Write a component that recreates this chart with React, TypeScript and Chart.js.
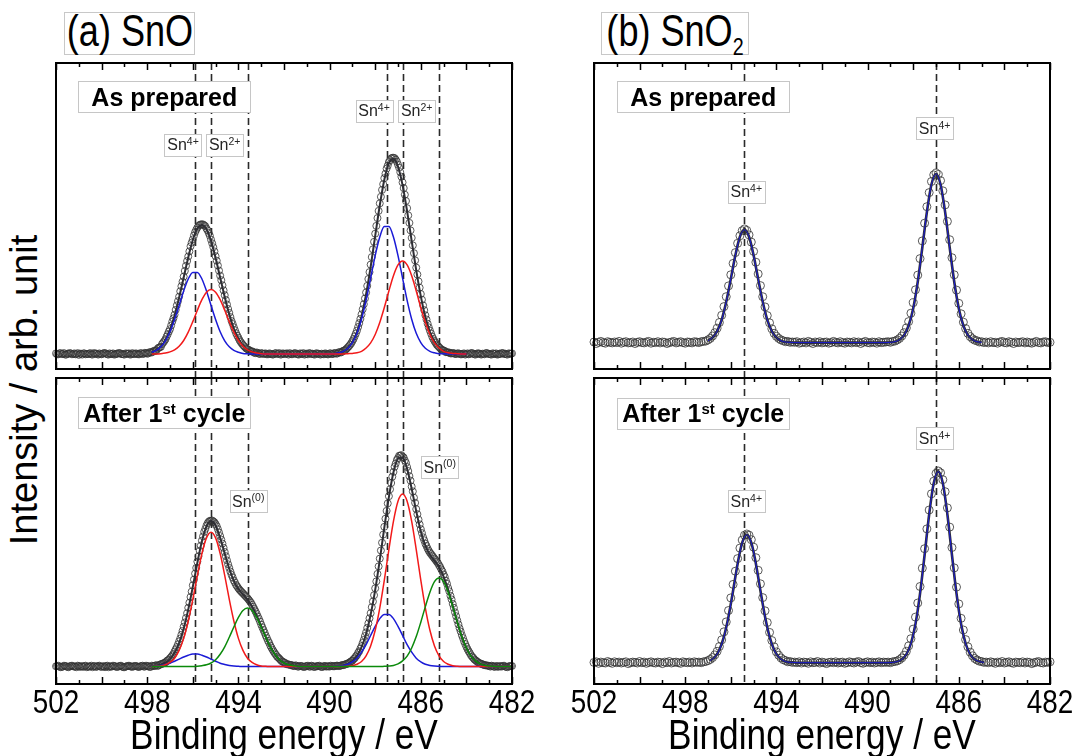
import React, { useEffect, useRef } from 'react';
import { Chart, registerables } from 'chart.js';

Chart.register(...registerables);

const SANS = "'Liberation Sans', Arial, Helvetica, sans-serif";
const CONDENSE = 0.82; // horizontal squeeze of the axis lettering

const BLUE = '#1a1ad6';
const RED = '#f21a1a';
const GREEN = '#0b8a0b';
const DARK = '#2e2e34';
const CIRCLE = 'rgba(50,50,50,0.8)';

// binding-energy axis
const X_MIN = 482;
const X_MAX = 502;
const TICK_LABEL_STEP = 4;
const X_TITLE = 'Binding energy / eV';

// measured scans: 502.0 -> 482.0 eV, 0.1 eV step (201 points)
const SCAN = { start: 502.0, step: -0.1 };
// SnO scans were recorded on a 0.05 eV step: the interleaved half-step readings 501.95 -> 482.05 (200 points)
const HALF_SCAN = { start: 501.95, step: -0.1 };
// fitted curves grids
const FIT_SNO_PREP = { start: 497.8, step: -0.2 }; // 70 points
const FIT_SNO_CYC = { start: 497.8, step: -0.2 }; // 80 points
const FIT_SNO2_PREP = { start: 497.0, step: -0.2 }; // 61 points
const FIT_SNO2_CYC = { start: 496.9, step: -0.2 }; // 61 points

// ---------- (a) SnO, as prepared ----------
const snoPrepData = [
  0.2,-0.1,0.3,0,-0.2,0.1,0.3,-0.1,0.2,0,-0.3,0.1,0.2,-0.1,0,0.3,-0.2,0.1,0,0.2,-0.1,0.3,0.1,-0.2,0,0.2,-0.1,0.1,0.3,0,-0.2,0.1,0.2,-0.1,0,
  0.2,-0.1,0.3,0.0,0.4,0.1,0.6,0.5,1.1,1.2,2.1,2.4,3.8,4.9,6.6,8.3,10.8,13.1,16.2,19.1,22.6,25.8,29.4,32.5,35.9,38.2,40.6,42.1,43.0,43.2,
  42.9,41.8,40.3,38.1,35.6,32.6,29.5,26.1,22.9,19.6,16.5,13.7,11.0,8.9,6.9,5.4,4.0,3.0,2.2,1.6,1.1,0.9,0.4,0.5,0.1,0.3,0.0,0.2,-0.1,
  0.1,-0.2,0.2,0,0.3,-0.1,0.1,0.2,-0.2,0,0.1,0.3,-0.1,0.2,0,-0.2,0.1,0.3,0,-0.1,0.2,0.1,-0.2,0.0,
  0.2,-0.1,0.2,0.0,0.3,0.1,0.6,0.5,1.1,1.4,2.2,3.1,4.3,5.9,7.8,10.3,13.2,16.6,20.5,25.0,29.8,34.9,40.1,45.3,50.2,54.7,58.6,61.8,64.0,65.2,
  65.4,64.8,63.1,60.6,57.2,53.1,48.6,43.7,38.7,33.6,28.8,24.2,20.0,16.2,12.9,10.1,7.8,5.8,4.3,3.1,2.3,1.5,1.2,0.6,0.5,0.2,0.3,0.0,0.2,0.1,-0.1,
  0.2,0,-0.1,0.3,0.1,-0.2,0.2,0,0.1,-0.1,0.3,0,-0.2,0.1,0.2,-0.1,0,0.3,0.1,-0.2,0.1,0.2,
];
const snoPrepDataHalf = [
  -0.1,0.2,0,0.3,-0.2,0.1,0.2,0,-0.1,0.3,0.1,-0.2,0.2,0,0.1,-0.1,0.3,0.2,-0.2,0,0.1,0.3,-0.1,0.2,0,-0.2,0.1,0.3,0,-0.1,0.2,0.1,-0.2,0.3,0,
  0.1,-0.1,0.2,0.1,0.3,0.2,0.6,0.8,1.0,1.7,2.2,3.3,4.3,5.8,7.5,9.5,11.9,14.7,17.6,20.9,24.1,27.7,31.0,34.2,37.1,39.5,41.4,42.7,43.2,43.2,
  42.6,41.2,39.4,36.9,34.2,31.1,27.8,24.6,21.2,18.0,15.0,12.3,10.0,7.9,6.1,4.6,3.5,2.6,1.8,1.4,0.9,0.7,0.3,0.4,0.0,0.2,0.1,-0.1,
  0.2,0,-0.1,0.3,0.1,-0.2,0.2,0,0.1,0.3,-0.1,0.2,0,-0.2,0.1,0.3,0,-0.1,0.2,0.1,-0.2,0.2,0,0.1,-0.1,
  0.1,-0.1,0.2,0.0,0.3,0.2,0.6,0.8,1.2,1.8,2.6,3.6,5.0,6.8,9.0,11.7,14.9,18.5,22.7,27.3,32.3,37.4,42.7,47.7,52.4,56.6,60.1,62.8,64.6,65.4,
  65.3,64.1,62.1,59.1,55.3,51.0,46.2,41.2,36.2,31.2,26.5,22.1,18.1,14.6,11.5,8.9,6.8,5.0,3.7,2.7,1.9,1.3,1.0,0.6,0.5,0.2,0.3,0.0,0.2,-0.1,
  0.1,-0.2,0.2,0,0.3,-0.1,0.1,0.2,-0.2,0,0.3,0.1,-0.1,0.2,0,-0.2,0.1,0.3,0,-0.1,0.2,0.1,
];
const snoPrepEnvelope = [
  0.6,1.3,2.5,4.7,8.1,12.8,18.8,25.5,32.2,38.0,41.8,43.0,41.6,37.7,32.0,25.5,19.0,13.2,8.5,5.1,2.8,1.4,0.7,0.3,0.1,
  0,0,0,0,0,0,0,0,0,0,0,0,0,
  0,0.1,0.1,0.4,0.9,2.0,3.9,7.3,12.6,19.9,29.0,39.4,49.5,58.1,63.6,65.1,62.5,56.3,47.6,37.7,27.9,19.3,12.4,7.4,4.1,2.1,1.0,0.4,0.2,0.1,0,0,
];
const snoPrepSn4 = [
  0.6,1.2,2.4,4.4,7.4,11.5,16.2,21.0,25.0,27.2,27.2,25.0,21.0,16.2,11.5,7.4,4.4,2.4,1.2,0.6,0.2,0.1,0,0,0,
  0,0,0,0,0,0,0,0,0,0,0,0,0,
  0,0.1,0.1,0.4,0.9,1.9,3.8,6.9,11.6,17.9,25.3,32.8,39.0,42.5,42.5,39.0,32.8,25.3,17.9,11.6,6.9,3.8,1.9,0.9,0.4,0.1,0.1,0,0,0,0,0,
];
const snoPrepSn2 = [
  0,0,0.1,0.3,0.7,1.4,2.6,4.5,7.3,10.8,14.6,18.1,20.6,21.5,20.6,18.1,14.6,10.8,7.3,4.5,2.6,1.4,0.7,0.3,0.1,
  0,0,0,0,0,0,0,0,0,0,0,0,0,
  0,0,0,0,0,0.1,0.2,0.4,0.9,2.0,3.7,6.5,10.5,15.5,21.0,26.1,29.7,31.0,29.7,26.1,21.0,15.5,10.5,6.5,3.7,2.0,0.9,0.4,0.2,0.1,0,0,
];

// ---------- (a) SnO, after 1st cycle ----------
const snoCycData = [
  0.1,0.3,-0.2,0,0.2,-0.1,0.1,0.3,0,-0.2,0.2,0.1,-0.1,0.3,0,0.1,-0.2,0.2,0,0.3,-0.1,0.1,0.2,-0.2,0,0.3,0.1,-0.1,0.2,0,-0.2,0.1,0.3,0,0.1,
  0.2,-0.1,0.1,0.3,0.0,0.2,-0.1,0.3,0.2,0.5,0.4,0.8,1.1,1.4,2.1,2.8,3.7,5.0,6.5,8.4,10.6,13.3,16.2,19.6,23.2,27.1,31.0,35.0,38.6,42.0,
  44.9,47.0,48.3,48.6,48.4,47.5,45.8,43.5,41.0,38.2,35.4,32.9,30.6,28.7,27.2,26.1,25.2,24.4,23.6,22.8,21.8,20.6,19.2,17.6,15.9,14.0,12.2,10.3,8.6,7.0,
  5.6,4.4,3.3,2.6,1.8,1.4,0.8,0.7,0.5,0.2,0.4,0.0,0.2,0.1,-0.1,0.2,0.0,0.3,-0.1,0.1,
  0.2,0.0,-0.1,0.2,0.1,0.0,0.2,0.1,0.3,0.2,0.4,0.5,0.8,1.0,1.5,2.0,2.8,3.8,5.1,6.8,8.9,11.4,14.4,17.8,21.7,26.1,30.9,36.0,41.3,46.6,
  51.9,56.8,61.2,64.9,67.7,69.5,70.3,70.0,68.7,66.5,63.5,60.0,56.3,52.5,49.0,45.8,43.1,41.0,39.3,38.0,37.0,36.0,35.0,33.8,32.4,30.7,28.6,26.2,23.6,20.9,
  18.1,15.4,12.8,10.5,8.4,6.6,5.1,3.8,2.9,2.1,1.5,1.1,0.8,0.5,0.4,0.2,0.3,0.0,0.2,-0.1,0.1,0.2,0.0,-0.2,0.1,0.2,
];
const snoCycDataHalf = [
  0.2,0,-0.1,0.3,0.1,-0.2,0.2,0.1,0,0.3,-0.1,0.1,0.2,-0.2,0,0.3,0.1,-0.1,0.2,0,0.1,-0.2,0.3,0.1,0,0.2,-0.1,0.1,0.3,-0.2,0,0.2,0.1,-0.1,0.2,
  0.1,-0.1,0.2,0.0,0.3,0.1,-0.1,0.2,0.3,0.2,0.6,0.9,1.2,1.8,2.3,3.2,4.2,5.8,7.4,9.4,11.9,14.7,17.8,21.3,25.0,29.0,32.9,36.8,40.3,43.4,
  45.9,47.8,48.6,48.7,48.1,46.8,44.7,42.3,39.6,36.8,34.1,31.7,29.7,28.0,26.7,25.6,24.8,24.0,23.2,22.3,21.3,19.9,18.4,16.7,15.0,13.1,11.3,9.5,7.9,6.3,
  5.0,3.9,3.0,2.2,1.6,1.2,0.8,0.6,0.5,0.2,0.3,0.0,0.2,-0.1,0.1,0.3,0.0,0.2,-0.1,
  0.1,0.3,-0.1,0.2,0.0,0.1,0.3,0.1,0.2,0.3,0.2,0.5,0.6,0.9,1.3,1.8,2.5,3.4,4.6,6.0,7.9,10.2,12.9,16.1,19.8,23.8,28.4,33.4,38.7,44.0,
  49.3,54.4,59.1,63.3,66.6,68.9,70.3,70.5,69.7,67.9,65.2,62.0,58.4,54.6,50.8,47.4,44.5,42.1,40.2,38.6,37.5,36.5,35.5,34.5,33.2,31.7,29.9,27.6,25.1,22.4,
  19.6,16.8,14.1,11.7,9.5,7.5,5.8,4.5,3.3,2.4,1.8,1.2,0.9,0.6,0.4,0.3,0.0,0.2,-0.1,0.1,0.2,0.0,0.3,-0.1,0.1,0.2,
];
const snoCycEnvelope = [
  0.1,0.3,0.6,1.3,2.5,4.6,7.9,12.7,19.0,26.6,34.6,41.8,46.7,48.5,47.0,42.9,37.7,32.6,28.6,25.9,24.1,22.3,20.0,17.0,13.5,9.9,6.6,4.1,2.3,1.2,0.6,0.3,0.1,0,0,
  0,0,0,0,0,0.1,0.2,0.4,0.9,1.9,3.6,6.5,10.9,17.3,25.6,35.5,46.3,56.5,64.7,69.4,69.7,65.9,59.3,51.8,45.1,40.3,37.3,35.3,33.2,30.0,
  25.6,20.3,14.9,10.0,6.2,3.5,1.9,0.9,0.4,0.2,0.1,0,0,0,0,
];
const snoCycSn4 = [
  0.1,0.2,0.4,0.7,1.1,1.8,2.5,3.2,3.8,4.2,4.2,3.8,3.2,2.5,1.8,1.1,0.7,0.4,0.2,0.1,0,0,
  0,0,0,0,0,0,0,0,0,0,0,0,0,0,0,0,0,
  0,0.1,0.2,0.4,0.8,1.6,2.8,4.8,7.3,10.4,13.4,16.0,17.4,17.4,16.0,13.4,10.4,7.3,4.8,2.8,1.6,0.8,0.4,0.2,0.1,0,
  0,0,0,0,0,0,0,0,0,0,0,0,0,0,0,
];
const snoCycSn2 = [
  0,0.1,0.2,0.6,1.4,2.8,5.4,9.4,15.2,22.4,30.4,37.7,42.9,44.8,42.9,37.7,30.4,22.4,15.2,9.4,5.4,2.8,1.4,0.6,0.2,0.1,0,
  0,0,0,0,0,0,0,0,0,0,0,0,0,
  0,0,0,0.1,0.3,0.8,1.7,3.6,6.9,12.1,19.5,28.8,39.0,48.4,55.1,57.5,55.1,48.4,39.0,28.8,19.5,12.1,6.9,3.6,1.7,0.8,0.3,0.1,0,0,
  0,0,0,0,0,0,0,0,0,0,
];
const snoCycSn0 = [
  0,0,0,0,0,0,0,0,0,
  0,0.1,0.3,0.6,1.2,2.3,4.1,6.6,9.8,13.2,16.4,18.7,19.5,18.7,16.4,13.2,9.8,6.6,4.1,2.3,1.2,0.6,0.3,0.1,0,0,
  0,0,0,0,0,0,0,0,0,0,0,0,0,0,0,
  0,0.1,0.2,0.4,0.9,1.9,3.5,6.2,10.0,14.8,20.0,24.8,28.3,29.5,28.3,24.8,20.0,14.8,10.0,6.2,3.5,1.9,0.9,0.4,0.2,0.1,0,0,0,0,
];

// ---------- (b) SnO2, as prepared ----------
const sno2PrepData = [
  0.2,-0.3,0.1,0.4,0,-0.2,0.3,0.1,-0.1,0.2,0,0.4,-0.2,0.1,0.3,-0.1,0,0.2,-0.3,0.1,0.3,0,-0.1,0.2,0.4,-0.2,0.1,0,0.3,-0.1,0.2,0.1,-0.3,0,0.2,0.4,-0.1,0.1,0.3,0,-0.2,0.2,0.1,-0.1,0.3,
  0.2,0.0,0.3,0.4,0.5,0.9,1.4,2.2,3.3,4.8,6.7,9.1,12.0,15.3,18.9,22.6,26.4,30.0,33.1,35.6,37.3,37.9,37.4,35.9,33.5,30.4,26.8,22.9,19.0,15.3,
  11.9,9.0,6.6,4.6,3.1,2.1,1.4,0.9,0.6,0.3,0.4,0.1,0.2,
  0.1,0.3,-0.2,0,0.2,-0.1,0.4,0.1,-0.3,0.2,0,0.3,-0.1,0.1,0.2,-0.2,0,0.4,0.1,-0.1,0.3,0,-0.2,0.2,0.1,-0.1,0.3,0,0.2,-0.3,0.1,0.4,0,-0.1,0.2,0.1,-0.2,0.3,0,0.1,0.2,
  0.3,0.1,0.4,0.5,0.9,1.4,2.2,3.3,4.9,7.0,9.8,13.3,17.6,22.5,28.0,33.9,39.8,45.3,50.0,53.7,55.9,56.5,56.0,54.0,50.6,45.9,40.4,34.3,28.3,22.6,
  17.5,13.1,9.6,6.8,4.7,3.1,2.0,1.3,0.8,0.6,0.2,0.3,0.0,
  0.2,-0.1,0.3,0,0.1,-0.2,0.2,0.4,0,-0.1,0.3,0.1,-0.3,0.2,0,0.1,0.3,-0.1,0.2,0,-0.2,0.1,0.4,0,-0.1,0.2,0.3,0,0.1,
];
const sno2PrepFit = [
  0.6,1.7,3.8,7.6,13.6,21.2,29.1,35.3,37.6,35.3,29.1,21.2,13.6,7.6,3.8,1.7,0.6,0.2,0.1,
  0,0,0,0,0,0,0,0,0,0,0,0,0,0,0,0,0,0,0,0,
  0,0.1,0.3,1.0,2.5,5.7,11.4,20.3,31.7,43.5,52.7,56.2,52.7,43.5,31.7,20.3,11.4,5.7,2.5,1.0,0.3,0.1,
];

// ---------- (b) SnO2, after 1st cycle ----------
const sno2CycData = [
  0.1,0.3,-0.2,0.2,0,-0.1,0.4,0.1,-0.2,0.3,0,0.2,-0.1,0.1,0.3,-0.3,0,0.2,0.1,-0.1,0.4,0,0.2,-0.2,0.1,0.3,0,-0.1,0.2,0.1,-0.3,0.2,0,0.4,-0.1,0.1,0.2,0,-0.2,0.3,0.1,0,0.2,-0.1,0.3,0.1,
  0.2,0.0,0.3,0.4,0.7,1.1,1.7,2.6,3.8,5.4,7.6,10.3,13.6,17.4,21.6,26.1,30.5,34.7,38.2,40.9,42.5,42.9,42.5,41.0,38.5,35.0,30.8,26.3,21.7,17.3,
  13.4,10.1,7.4,5.3,3.6,2.5,1.6,1.0,0.7,0.3,0.4,0.1,0.2,
  0.0,0.3,-0.1,0.2,0.1,-0.2,0.3,0,0.1,0.4,-0.1,0.2,0,-0.3,0.1,0.2,0,0.3,-0.1,0.1,0.2,-0.2,0,0.3,0.1,-0.1,0.2,0.4,0,-0.2,0.1,0.3,0,0.2,-0.1,0.1,0.3,0,0.2,0.1,
  0.2,0.0,0.3,0.4,0.6,1.0,1.6,2.5,3.8,5.6,8.0,11.2,15.2,19.9,25.4,31.5,38.0,44.6,50.9,56.3,60.5,63.1,63.9,63.3,61.0,57.0,51.6,45.2,38.4,31.6,
  25.2,19.6,14.8,10.9,7.7,5.3,3.5,2.3,1.4,0.9,0.5,0.4,0.1,0.2,0.0,
  0.3,0.1,-0.2,0.2,0,0.4,-0.1,0.1,0.3,0,-0.2,0.2,0.1,0,0.3,-0.1,0.2,0.1,-0.3,0,0.2,0.4,0,-0.1,0.2,0.1,0.3,
];
const sno2CycFit = [
  0.7,1.9,4.3,8.7,15.4,24.0,33.0,40.0,42.6,40.0,33.0,24.0,15.4,8.7,4.3,1.9,0.7,0.2,0.1,
  0,0,0,0,0,0,0,0,0,0,0,0,0,0,0,0,0,0,0,0,
  0,0.1,0.4,1.1,2.8,6.4,12.9,23.0,35.9,49.4,59.8,63.7,59.8,49.4,35.9,23.0,12.9,6.4,2.8,1.1,0.4,0.1,
];

// reference lines (eV)
const DASHES_SNO = [495.9, 495.2, 493.6, 487.5, 486.8, 485.2];
const DASHES_SNO2 = [495.4, 487.0];

// annotations (eV, intensity)
const SN4 = [{ t: 'Sn' }, { t: '4+', sup: true }];
const SN2 = [{ t: 'Sn' }, { t: '2+', sup: true }];
const SN0 = [{ t: 'Sn' }, { t: '(0)', sup: true }];
const AS_PREP = [{ t: 'As prepared' }];
const AFTER = [{ t: 'After 1' }, { t: 'st', sup: true }, { t: ' cycle' }];

const LABELS_SNO_PREP = [
  { x: 497.25, y: 85.7, kind: 'title', parts: AS_PREP },
  { x: 496.43, y: 69.8, kind: 'ion', parts: SN4 },
  { x: 494.6, y: 69.8, kind: 'ion', parts: SN2 },
  { x: 488.05, y: 81.1, kind: 'ion', parts: SN4 },
  { x: 486.18, y: 81.1, kind: 'ion', parts: SN2 },
];
const LABELS_SNO_CYC = [
  { x: 497.25, y: 84.6, kind: 'title', parts: AFTER },
  { x: 493.57, y: 55.2, kind: 'ion', parts: SN0 },
  { x: 485.17, y: 66.6, kind: 'ion', parts: SN0 },
];
const LABELS_SNO2_PREP = [
  { x: 497.21, y: 81.9, kind: 'title', parts: AS_PREP },
  { x: 495.32, y: 50.3, kind: 'ion', parts: SN4 },
  { x: 487.06, y: 71.5, kind: 'ion', parts: SN4 },
];
const LABELS_SNO2_CYC = [
  { x: 497.21, y: 83.2, kind: 'title', parts: AFTER },
  { x: 495.32, y: 53.8, kind: 'ion', parts: SN4 },
  { x: 487.06, y: 74.8, kind: 'ion', parts: SN4 },
];

type Grid = { start: number; step: number };
const toPoints = (grid: Grid, values: number[]) =>
  values.map((y, i) => ({ x: +(grid.start + grid.step * i).toFixed(2), y }));

const PAD_X = 30;
const PAD_Y = 14;
const PAGE_H = 756;

function drawLabel(ctx: CanvasRenderingContext2D, cx: number, cy: number, lab: any) {
  const isTitle = lab.kind === 'title';
  const main = isTitle ? 25 : 16;
  const sup = isTitle ? 15 : 10.5;
  const weight = isTitle ? 'bold ' : '';
  const mainFont = `${weight}${main}px ${SANS}`;
  const supFont = `${weight}${sup}px ${SANS}`;
  let w = 0;
  for (const p of lab.parts) {
    ctx.font = p.sup ? supFont : mainFont;
    w += ctx.measureText(p.t).width;
  }
  const bw = isTitle ? 172 : Math.max(37, Math.round(w + 5));
  const bh = isTitle ? 31 : 22;
  const bx = Math.round(cx - bw / 2) + 0.5;
  const by = Math.round(cy - bh / 2) + 0.5;
  ctx.setLineDash([]);
  ctx.fillStyle = '#ffffff';
  ctx.fillRect(bx, by, bw, bh);
  ctx.strokeStyle = '#c6c6c6';
  ctx.lineWidth = 1;
  ctx.strokeRect(bx, by, bw, bh);
  const base = cy + (main * 0.716) / 2;
  let x = cx - w / 2;
  ctx.fillStyle = isTitle ? '#000' : '#262626';
  ctx.textBaseline = 'alphabetic';
  ctx.textAlign = 'left';
  for (const p of lab.parts) {
    ctx.font = p.sup ? supFont : mainFont;
    ctx.fillText(p.t, x, p.sup ? base - main * 0.33 : base);
    x += ctx.measureText(p.t).width;
  }
}

function condensedText(ctx: CanvasRenderingContext2D, text: string, x: number, y: number) {
  ctx.save();
  ctx.translate(x, y);
  ctx.scale(CONDENSE, 1);
  ctx.fillText(text, 0, 0);
  ctx.restore();
}

const xpsDecor = {
  id: 'xpsDecor',
  beforeDatasetsDraw(chart: any, _args: any, opts: any) {
    const { ctx, chartArea: a } = chart;
    const xs = chart.scales.x;
    ctx.save();
    ctx.strokeStyle = '#2a2a2a';
    ctx.lineWidth = 1.6;
    ctx.setLineDash([7, 4]);
    for (const e of opts.dashes) {
      const px = Math.round(xs.getPixelForValue(e)) + 0.5;
      ctx.beginPath();
      ctx.moveTo(px, a.top);
      ctx.lineTo(px, a.bottom + (opts.dashExtend || 0));
      ctx.stroke();
    }
    ctx.restore();
  },
  afterDatasetsDraw(chart: any, _args: any, opts: any) {
    const { ctx, chartArea: a } = chart;
    const xs = chart.scales.x;
    const ys = chart.scales.y;
    ctx.save();
    for (const lab of opts.labels) {
      drawLabel(ctx, xs.getPixelForValue(lab.x), ys.getPixelForValue(lab.y), lab);
    }
    // frame
    ctx.setLineDash([]);
    ctx.strokeStyle = '#000';
    ctx.lineWidth = 2;
    ctx.strokeRect(a.left, a.top, a.right - a.left, a.bottom - a.top);
    // inward ticks, 1 eV minor / 2 eV major
    ctx.lineWidth = 1.5;
    for (let e = X_MIN; e <= X_MAX; e += 1) {
      const px = Math.round(xs.getPixelForValue(e)) + 0.5;
      const len = e % 2 === 0 ? 7 : 4;
      ctx.beginPath();
      ctx.moveTo(px, a.top);
      ctx.lineTo(px, a.top + len);
      ctx.moveTo(px, a.bottom);
      ctx.lineTo(px, a.bottom - len);
      ctx.stroke();
    }
    // tick labels and axis title
    if (opts.axis) {
      ctx.fillStyle = '#000';
      ctx.textAlign = 'center';
      ctx.textBaseline = 'alphabetic';
      ctx.font = `34px ${SANS}`;
      for (let v = X_MIN; v <= X_MAX; v += TICK_LABEL_STEP) {
        condensedText(ctx, String(v), xs.getPixelForValue(v), a.bottom + 29);
      }
      ctx.font = `43px ${SANS}`;
      condensedText(ctx, X_TITLE, (a.left + a.right) / 2, a.bottom + 65);
    }
    ctx.restore();
  },
};

const fitLine = (grid: Grid, values: number[], color: string, width: number) => ({
  data: toPoints(grid, values),
  showLine: true,
  borderColor: color,
  borderWidth: width,
  pointRadius: 0,
  cubicInterpolationMode: 'monotone',
  clip: false,
});

const scanPoints = (grid: Grid, values: number[], radius: number) => ({
  data: toPoints(grid, values),
  showLine: false,
  pointRadius: radius,
  pointBorderWidth: 1,
  borderColor: CIRCLE,
  pointBorderColor: CIRCLE,
  backgroundColor: 'rgba(0,0,0,0)',
  pointBackgroundColor: 'rgba(0,0,0,0)',
  clip: false,
});

const PANELS = [
  {
    key: 'snoPrep',
    frame: { left: 56, top: 63, w: 456, h: 306 },
    y: [-5, 97],
    showX: false,
    dashes: DASHES_SNO,
    dashExtend: 9,
    labels: LABELS_SNO_PREP,
    datasets: [
      fitLine(FIT_SNO_PREP, snoPrepSn2, RED, 1.5),
      fitLine(FIT_SNO_PREP, snoPrepSn4, BLUE, 1.5),
      fitLine(FIT_SNO_PREP, snoPrepEnvelope, DARK, 2),
      scanPoints(SCAN, snoPrepData, 3.5),
      scanPoints(HALF_SCAN, snoPrepDataHalf, 3.5),
    ],
  },
  {
    key: 'snoCyc',
    frame: { left: 56, top: 378, w: 456, h: 306 },
    y: [-5.8, 96.2],
    showX: true,
    dashes: DASHES_SNO,
    dashExtend: 0,
    labels: LABELS_SNO_CYC,
    datasets: [
      fitLine(FIT_SNO_CYC, snoCycSn0, GREEN, 1.5),
      fitLine(FIT_SNO_CYC, snoCycSn2, RED, 1.5),
      fitLine(FIT_SNO_CYC, snoCycSn4, BLUE, 1.5),
      fitLine(FIT_SNO_CYC, snoCycEnvelope, DARK, 2),
      scanPoints(SCAN, snoCycData, 3.5),
      scanPoints(HALF_SCAN, snoCycDataHalf, 3.5),
    ],
  },
  {
    key: 'sno2Prep',
    frame: { left: 594, top: 63, w: 456, h: 306 },
    y: [-8.8, 93.2],
    showX: false,
    dashes: DASHES_SNO2,
    dashExtend: 9,
    labels: LABELS_SNO2_PREP,
    datasets: [
      fitLine(FIT_SNO2_PREP, sno2PrepFit, BLUE, 1),
      fitLine(FIT_SNO2_PREP, sno2PrepFit, DARK, 2.6),
      scanPoints(SCAN, sno2PrepData, 4),
    ],
  },
  {
    key: 'sno2Cyc',
    frame: { left: 594, top: 378, w: 456, h: 306 },
    y: [-7.1, 94.9],
    showX: true,
    dashes: DASHES_SNO2,
    dashExtend: 0,
    labels: LABELS_SNO2_CYC,
    datasets: [
      fitLine(FIT_SNO2_CYC, sno2CycFit, BLUE, 1),
      fitLine(FIT_SNO2_CYC, sno2CycFit, DARK, 2.6),
      scanPoints(SCAN, sno2CycData, 4),
    ],
  },
];

function Panel({ def }: { def: any }) {
  const ref = useRef<HTMLCanvasElement>(null);
  const { frame, showX } = def;
  const left = frame.left - PAD_X;
  const top = frame.top - PAD_Y;
  const width = frame.w + 2 * PAD_X;
  const axisH = PAGE_H - (frame.top + frame.h);
  const height = showX ? PAGE_H - top : frame.h + 2 * PAD_Y;

  useEffect(() => {
    if (!ref.current) return;
    const chart = new Chart(ref.current, {
      type: 'scatter',
      data: { datasets: def.datasets },
      options: {
        animation: false,
        responsive: false,
        maintainAspectRatio: false,
        events: [],
        layout: { padding: { left: PAD_X, right: PAD_X, top: PAD_Y, bottom: showX ? axisH : PAD_Y } },
        plugins: {
          legend: { display: false },
          tooltip: { enabled: false },
          xpsDecor: { dashes: def.dashes, dashExtend: def.dashExtend, labels: def.labels, axis: showX },
        } as any,
        scales: {
          x: { type: 'linear', reverse: true, min: X_MIN, max: X_MAX, display: false },
          y: { type: 'linear', display: false, min: def.y[0], max: def.y[1] },
        },
      } as any,
      plugins: [xpsDecor as any],
    });
    return () => chart.destroy();
  }, []);

  return (
    <canvas
      ref={ref}
      width={width}
      height={height}
      style={{ position: 'absolute', left, top, width, height }}
    />
  );
}

const headerBox: React.CSSProperties = {
  position: 'absolute',
  top: 12,
  height: 43,
  boxSizing: 'border-box',
  border: '1px solid #c8c8c8',
};
const headerText: React.CSSProperties = {
  position: 'absolute',
  left: '50%',
  top: 0,
  transform: `translateX(-50%) scaleX(${CONDENSE})`,
  transformOrigin: 'center',
  fontFamily: SANS,
  fontSize: 44,
  lineHeight: '35px',
  whiteSpace: 'nowrap',
  color: '#000',
};

export default function App() {
  return (
    <div
      style={{
        position: 'fixed',
        left: 0,
        top: 0,
        width: 1074,
        height: 756,
        background: '#fff',
        overflow: 'hidden',
        fontFamily: SANS,
      }}
    >
      <div style={{ ...headerBox, left: 64, width: 131 }}>
        <span style={headerText}>(a) SnO</span>
      </div>
      <div style={{ ...headerBox, left: 601, width: 148 }}>
        <span style={headerText}>
          (b) SnO<span style={{ fontSize: 24, verticalAlign: '-9px' }}>2</span>
        </span>
      </div>
      <div
        style={{
          position: 'absolute',
          left: 24,
          top: 390,
          transform: 'translate(-50%, -50%) rotate(-90deg)',
          fontFamily: SANS,
          fontSize: 38,
          lineHeight: '38px',
          whiteSpace: 'nowrap',
          color: '#000',
        }}
      >
        Intensity / arb. unit
      </div>
      {PANELS.map((p) => (
        <Panel key={p.key} def={p} />
      ))}
    </div>
  );
}
